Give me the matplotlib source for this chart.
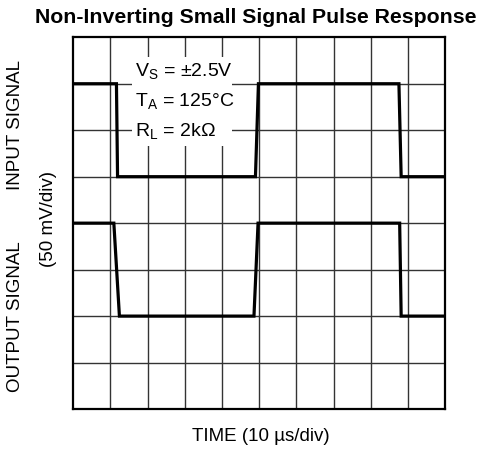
import matplotlib
matplotlib.use('Agg')
import matplotlib.pyplot as plt
from matplotlib.patches import Rectangle

# time in divisions (10 us/div), level in divisions (50 mV/div)
in_t = [0, 1.16, 1.19, 4.90, 4.98, 8.76, 8.82, 10]
in_v = [7, 7, 5, 5, 7, 7, 5, 5]
out_t = [0, 1.09, 1.24, 4.86, 4.97, 8.78, 8.82, 10]
out_v = [4, 4, 2, 2, 4, 4, 2, 2]

cond_lines = [r'V$_\mathregular{S}$ = ±2.5V',
              r'T$_\mathregular{A}$ = 125°C',
              r'R$_\mathregular{L}$ = 2kΩ']

plt.rcParams['font.family'] = ['Liberation Sans', 'DejaVu Sans']

fig = plt.figure(figsize=(4.78, 4.49), dpi=100)
ax = fig.add_axes([0.1534, 0.089, 0.7776, 0.828])

ax.set_xlim(0, 10)
ax.set_ylim(0, 8)
for i in range(1, 10):
    ax.axvline(i, color='#333333', lw=1.0, zorder=1)
for j in range(1, 8):
    ax.axhline(j, color='#333333', lw=1.0, zorder=1)

ax.plot(in_t, in_v, color='black', lw=2.3, zorder=3, solid_joinstyle='miter')
ax.plot(out_t, out_v, color='black', lw=2.3, zorder=3, solid_joinstyle='miter')

# white box behind the test conditions
ax.add_patch(Rectangle((1.585, 5.67), 2.68, 1.9, fc='white', ec='none', zorder=2))
for k, s in enumerate(cond_lines):
    ax.text(1.66, 7.15 - k * 0.645, s, fontsize=14, ha='left', va='baseline', zorder=4)

for sp in ax.spines.values():
    sp.set_linewidth(1.6)
ax.set_xticks([])
ax.set_yticks([])

fig.text(0.535, 0.96, 'Non-Inverting Small Signal Pulse Response',
         fontsize=15.3, fontweight='bold', ha='center', va='center')
fig.text(0.546, 0.027, 'TIME (10 µs/div)', fontsize=13.5, ha='center', va='center')
fig.text(0.032, 0.722, 'INPUT SIGNAL', fontsize=13.5, rotation=90, ha='center', va='center')
fig.text(0.032, 0.294, 'OUTPUT SIGNAL', fontsize=13.5, rotation=90, ha='center', va='center')
fig.text(0.102, 0.512, '(50 mV/div)', fontsize=13.5, rotation=90, ha='center', va='center')

fig.savefig('out.png', dpi=100)
